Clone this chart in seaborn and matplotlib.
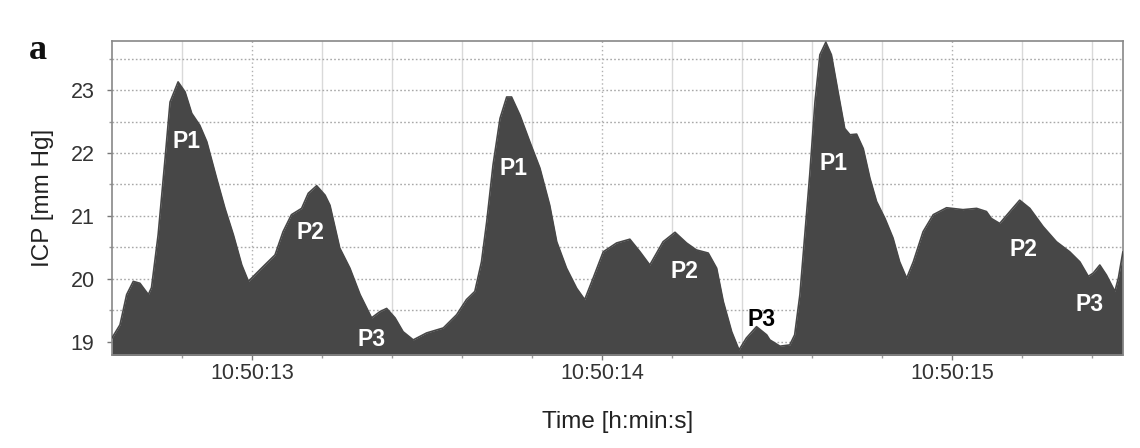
import matplotlib
matplotlib.use("Agg")
import matplotlib.pyplot as plt
import numpy as np
import pandas as pd
import seaborn as sns

# ICP waveform: time in seconds (10:50:xx) and pressure in mm Hg
time_s = [
    12.600, 12.623, 12.642, 12.661, 12.680, 12.704, 12.713, 12.732, 12.751, 12.766,
    12.789, 12.809, 12.828, 12.851, 12.871, 12.899, 12.923, 12.947, 12.971, 12.990,
    13.013, 13.042, 13.066, 13.089, 13.113, 13.142, 13.161, 13.185, 13.209, 13.223,
    13.251, 13.280, 13.309, 13.342, 13.366, 13.385, 13.409, 13.432, 13.461, 13.499,
    13.547, 13.585, 13.613, 13.637, 13.656, 13.671, 13.689, 13.709, 13.728, 13.742,
    13.766, 13.794, 13.823, 13.851, 13.871, 13.899, 13.928, 13.951, 13.975, 14.004,
    14.042, 14.080, 14.109, 14.137, 14.175, 14.209, 14.242, 14.270, 14.304, 14.328,
    14.347, 14.371, 14.392, 14.413, 14.442, 14.471, 14.480, 14.509, 14.537, 14.551,
    14.566, 14.580, 14.594, 14.609, 14.623, 14.640, 14.656, 14.675, 14.694, 14.709,
    14.728, 14.747, 14.766, 14.785, 14.809, 14.832, 14.851, 14.871, 14.890, 14.918,
    14.947, 14.985, 15.032, 15.071, 15.099, 15.113, 15.137, 15.166, 15.194, 15.223,
    15.261, 15.299, 15.337, 15.366, 15.390, 15.404, 15.423, 15.442, 15.466, 15.476,
    15.489,
]
icp_mmhg = [
    19.06, 19.27, 19.75, 19.96, 19.93, 19.75, 19.86, 20.70, 21.86, 22.81,
    23.13, 22.97, 22.63, 22.44, 22.18, 21.60, 21.12, 20.70, 20.22, 19.96,
    20.09, 20.25, 20.38, 20.75, 21.02, 21.12, 21.36, 21.48, 21.33, 21.17,
    20.49, 20.17, 19.75, 19.38, 19.48, 19.53, 19.38, 19.16, 19.03, 19.14,
    19.22, 19.43, 19.67, 19.80, 20.27, 20.91, 21.81, 22.55, 22.89, 22.89,
    22.60, 22.18, 21.76, 21.17, 20.59, 20.17, 19.85, 19.67, 20.01, 20.43,
    20.57, 20.63, 20.43, 20.22, 20.59, 20.74, 20.57, 20.46, 20.41, 20.17,
    19.64, 19.16, 18.87, 19.06, 19.24, 19.11, 19.03, 18.93, 18.95, 19.11,
    19.75, 20.70, 21.65, 22.81, 23.56, 23.76, 23.56, 22.97, 22.39, 22.29,
    22.30, 22.07, 21.60, 21.23, 20.96, 20.65, 20.27, 20.01, 20.27, 20.75,
    21.02, 21.13, 21.10, 21.12, 21.07, 20.96, 20.88, 21.07, 21.25, 21.12,
    20.83, 20.59, 20.43, 20.27, 20.04, 20.09, 20.22, 20.06, 19.80, 20.01,
    20.43,
]

# Peak annotations
peak_labels = ["P1", "P2", "P3", "P1", "P2", "P3", "P1", "P2", "P3"]
peak_t = [12.813, 13.166, 13.342, 13.747, 14.237, 14.456, 14.661, 15.204, 15.394]
peak_v = [22.18, 20.73, 19.03, 21.76, 20.12, 19.35, 21.84, 20.46, 19.59]
peak_colors = ["white", "white", "white", "white", "white", "black", "white", "white", "white"]

x_ticks = [13, 14, 15]
x_ticklabels = ["10:50:13", "10:50:14", "10:50:15"]
y_ticks = [19, 20, 21, 22, 23]

sns.set_theme(style="white")
plt.rcParams["font.family"] = ["Liberation Sans", "DejaVu Sans"]

df = pd.DataFrame({"t": time_s, "icp": icp_mmhg})

fig = plt.figure(figsize=(11.4, 4.48), dpi=100)
ax = fig.add_axes([0.0982, 0.2076, 0.8868, 0.7009])

y_min, y_max = 18.79, 23.78
x_min, x_max = 12.60, 15.489

# grid: light solid verticals every 0.2 s, dotted at whole seconds and half mm Hg
for xv in np.arange(12.8, 15.5, 0.2):
    if abs(xv - round(xv)) < 1e-6:
        continue
    ax.axvline(xv, color="#d9d9d9", lw=1.0, zorder=0)
for xv in x_ticks:
    ax.axvline(xv, color="#b0b0b0", lw=1.0, ls=(0, (1, 2)), zorder=0)
for yv in np.arange(19.0, 23.75, 0.5):
    ax.axhline(yv, color="#a8a8a8", lw=1.0, ls=(0, (1.2, 1.6)), zorder=0)

fill_color = "#474747"
ax.fill_between(df["t"], y_min - 1, df["icp"], color=fill_color, lw=0, zorder=2)
sns.lineplot(data=df, x="t", y="icp", ax=ax, color=fill_color, lw=1.2, zorder=3)

for lab, tx, vy, c in zip(peak_labels, peak_t, peak_v, peak_colors):
    ax.text(tx, vy, lab, ha="center", va="center", color=c,
            fontsize=16.5, fontweight="bold", zorder=4)

ax.set_xlim(x_min, x_max)
ax.set_ylim(y_min, y_max)
ax.set_xticks(x_ticks)
ax.set_xticklabels(x_ticklabels)
ax.set_xticks(np.arange(12.8, 15.5, 0.2), minor=True)
ax.set_yticks(y_ticks)
ax.set_yticks(np.arange(19.5, 23.75, 1.0), minor=True)

ax.tick_params(axis="both", which="major", length=3.5, width=1, color="#777777",
               labelsize=15.5, labelcolor="#333333", direction="out")
ax.tick_params(axis="both", which="minor", length=2.5, width=1, color="#999999",
               direction="out")
ax.tick_params(axis="x", which="major", pad=2)
ax.tick_params(axis="y", which="major", pad=9)
ax.tick_params(left=True, bottom=True, which="both")

ax.set_xlabel("Time [h:min:s]", fontsize=17.5, color="#222222", labelpad=20)
ax.set_ylabel("ICP [mm Hg]", fontsize=17.5, color="#222222", labelpad=12)

for sp in ax.spines.values():
    sp.set_visible(True)
    sp.set_color("#888888")
    sp.set_linewidth(1.2)

fig.text(0.033, 0.888, "a", fontsize=26, fontweight="bold",
         family="Liberation Serif", color="#111111", ha="center", va="center")

fig.savefig("out.png", dpi=100, facecolor="white")
